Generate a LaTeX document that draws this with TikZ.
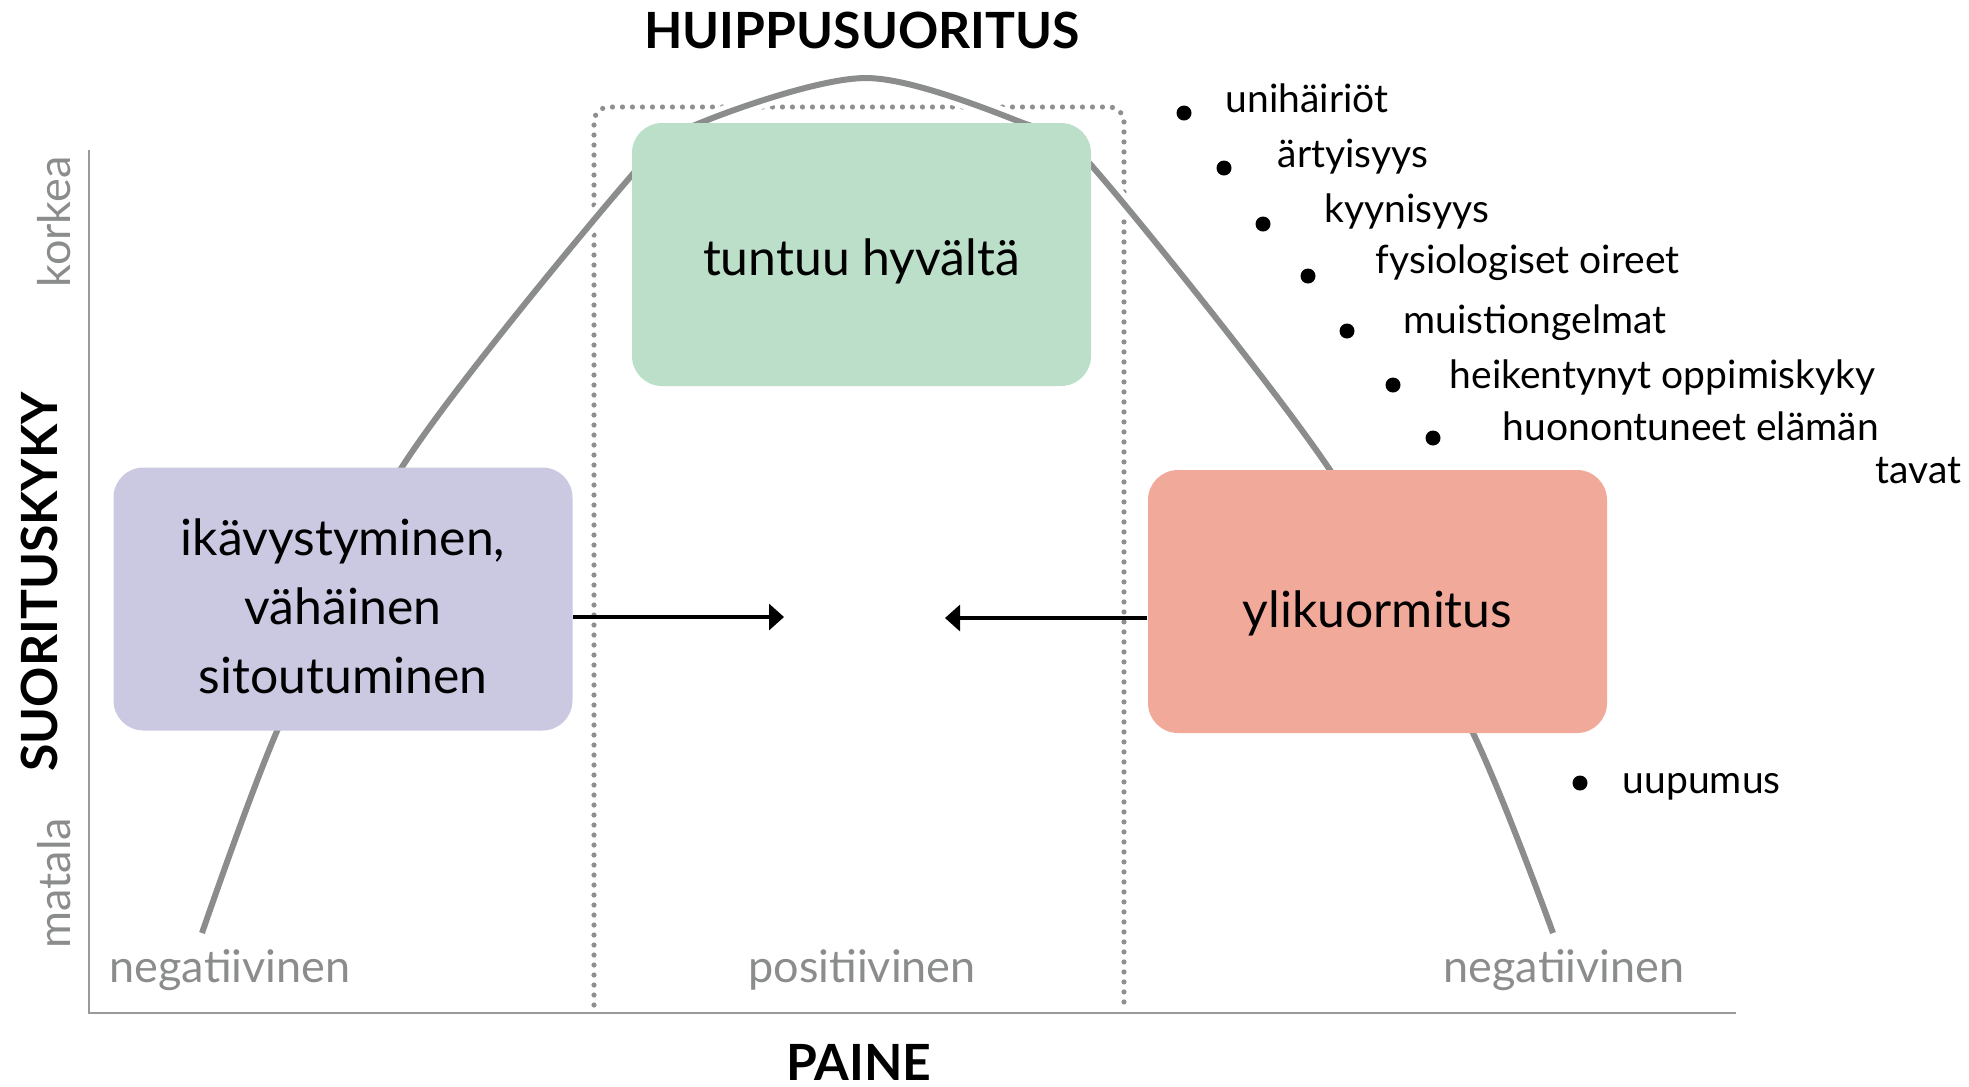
\documentclass[tikz,border=0pt]{standalone}
\usepackage{fontspec}
\setmainfont{Lato}
\usetikzlibrary{positioning,arrows.meta}
\definecolor{linegray}{HTML}{8A8D8B}
\definecolor{dotgray}{HTML}{8F8F8F}
\definecolor{axisgray}{HTML}{9A9A9A}
\definecolor{boxgreen}{HTML}{BCDFC9}
\definecolor{boxlilac}{HTML}{CBC8E2}
\definecolor{boxred}{HTML}{F1A99A}

\begin{document}
\begin{tikzpicture}[x=0.1mm,y=-0.1mm,
	stressbox/.style={rounded corners=3mm, minimum width=45.9mm, minimum height=26.3mm,
		align=center, inner sep=0pt, font=\fontsize{14.2}{19.6}\selectfont},
	onerow/.style={text height=5.2mm, text depth=1.1mm},
	headlabel/.style={inner sep=0pt, font=\fontsize{14.2}{17}\selectfont\bfseries},
	graylabel/.style={inner sep=0pt, text=linegray, font=\fontsize{12.8}{15}\selectfont},
	symptom/.style={inner sep=0pt, anchor=base west, font=\fontsize{11.1}{13}\selectfont},
	bulletdot/.style={circle, fill=black, inner sep=0pt, minimum size=1.5mm},
	pointer/.style={-{Triangle[length=1.5mm, width=2.6mm]}, line width=0.33mm}]
	\useasboundingbox (0,0) rectangle (1969,1086);
	%% axes
	\coordinate (origo) at (89,1013);
	\draw[axisgray, line width=0.25mm] (89,150) -- (origo) -- (1736,1013);
	%% positive zone
	\draw[dotgray, line width=0.52mm, line cap=round, dash pattern=on 0mm off 1mm, rounded corners=1.5mm]
		(594,1005) -- (594,107) -- (1124,107) -- (1124,1005);
	%% curve
	\draw[linegray, line width=0.6mm, preaction={draw=white, line width=1.6mm}]
		plot[smooth] coordinates {(202,933) (277,731) (402,467) (632,175) (700,123) (866,78)
		(1023,123) (1091,165) (1330,470) (1473,733) (1553,933)};
	%% boxes
	\node[stressbox, onerow, fill=boxgreen] (hyva) at (861.5,254.5) {tuntuu hyvältä};
	\node[stressbox, fill=boxlilac] (ikavys) at (343,599) {\rule{0pt}{14.5pt}ikävystyminen,\\vähäinen\\sitoutuminen};
	\node[stressbox, onerow, text height=6.2mm, fill=boxred] (ylikuorm) at (1377.5,601.5) {ylikuormitus};
	% nuolet keskelle
	\coordinate (kohtiV) at (784,617);
	\coordinate (kohtiO) at (945,618);
	\draw[pointer] (ikavys.east |- kohtiV) -- (kohtiV);
	\draw[pointer] (ylikuorm.west |- kohtiO) -- (kohtiO);
	%% axis texts
	\node[headlabel, anchor=base] (huippu) at (862,48) {HUIPPUSUORITUS};
	\node[headlabel, anchor=base] (paine) at (859,1080) {PAINE};
	\node[headlabel, rotate=90, anchor=base] (kyky) at (57,582) {SUORITUSKYKY};
	\node[graylabel, rotate=90, anchor=base] (korkea) at (71,222) {korkea};
	\node[graylabel, rotate=90, anchor=base] (matala) at (71,883) {matala};
	\node[graylabel, anchor=base west] (negV) at (109,982) {negatiivinen};
	\node[graylabel, anchor=base] (pos) at (862,982) {positiivinen};
	\node[graylabel, anchor=base west] (negO) at (1443,982) {negatiivinen};
	%% oireet
	\node[bulletdot] (p1) at (1184,113) {};
	\node[symptom] (o1) at (1225,112) {unihäiriöt};
	\node[bulletdot] (p2) at (1224,168) {};
	\node[symptom] (o2) at (1277,167) {ärtyisyys};
	\node[bulletdot] (p3) at (1263,224) {};
	\node[symptom] (o3) at (1324,222) {kyynisyys};
	\node[bulletdot] (p4) at (1308,276) {};
	\node[symptom] (o4) at (1375,273) {fysiologiset oireet};
	\node[bulletdot] (p5) at (1347,331) {};
	\node[symptom] (o5) at (1403,333) {muistiongelmat};
	\node[bulletdot] (p6) at (1393,385) {};
	\node[symptom] (o6) at (1449,388) {heikentynyt oppimiskyky};
	\node[bulletdot] (p7) at (1433,438) {};
	\node[symptom] (o7) at (1502,440) {huonontuneet elämän};
	\node[symptom, anchor=base east] (o7b) at (1962,483) {tavat};
	\node[bulletdot] (p8) at (1580,783) {};
	\node[symptom] (o8) at (1622,793) {uupumus};
\end{tikzpicture}
\end{document}
